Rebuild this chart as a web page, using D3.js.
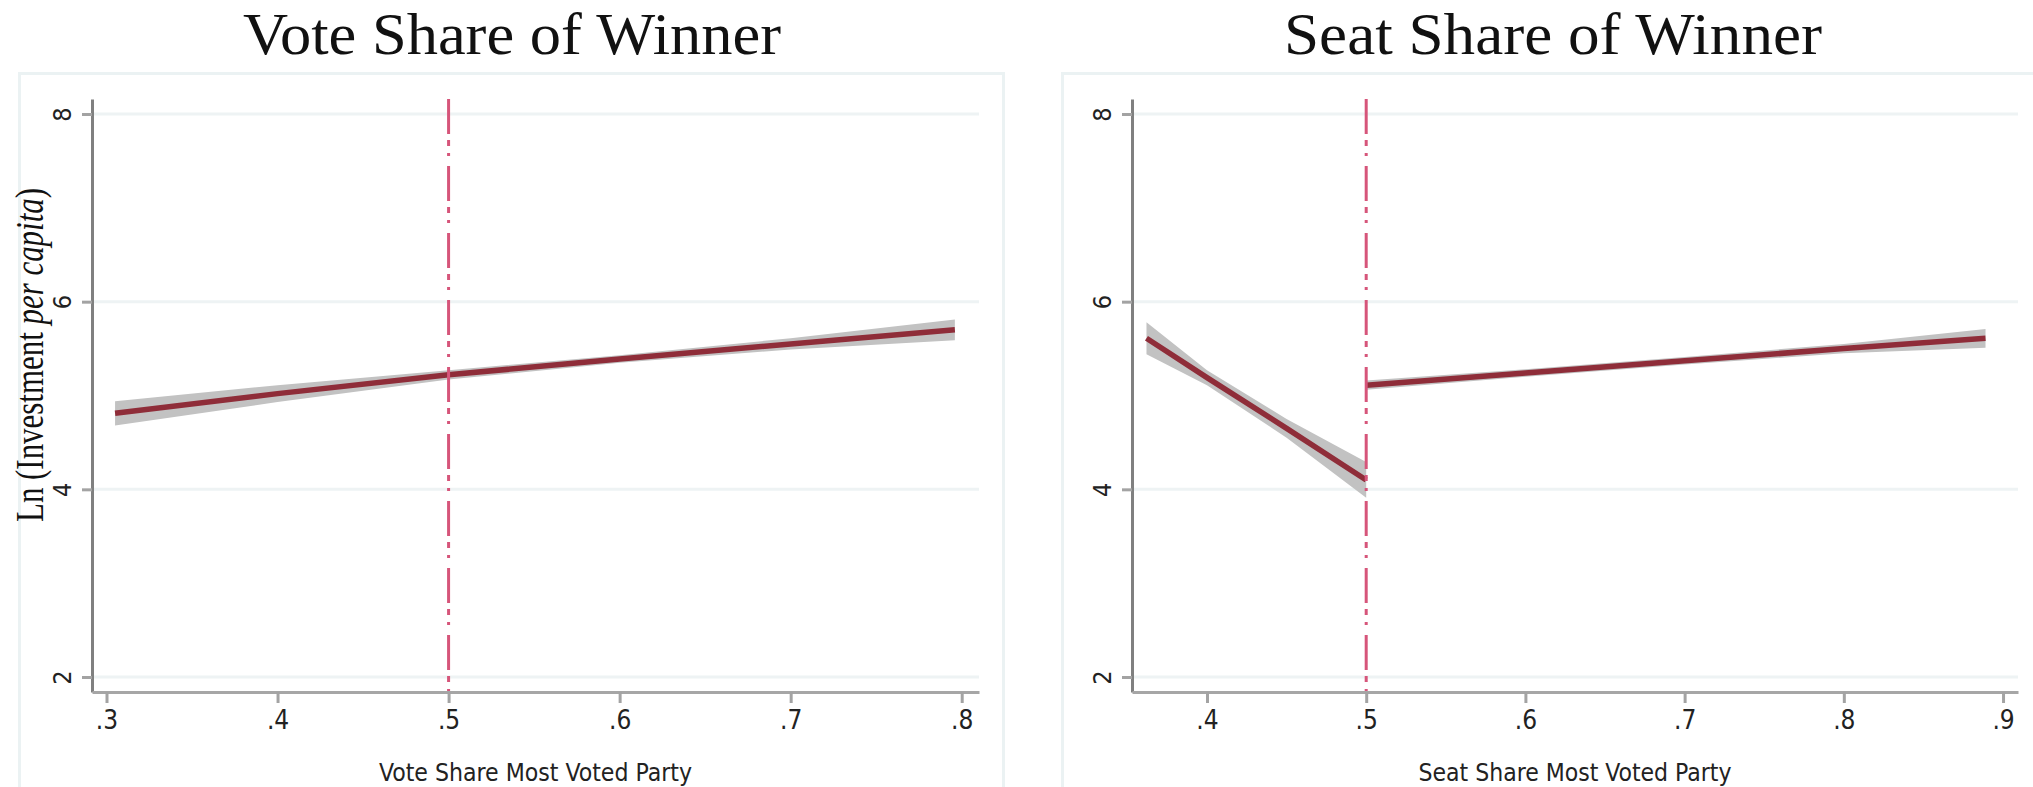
<!DOCTYPE html>
<html>
<head>
<meta charset="utf-8">
<script src="https://cdn.jsdelivr.net/npm/d3@7"></script>
<style>
  body { margin: 0; background: #fff; }
  svg { display: block; }
</style>
</head>
<body>
<div id="chart"></div>
<script>
// ticks
const yTicks = [2, 4, 6, 8];
const voteTicks = [0.3, 0.4, 0.5, 0.6, 0.7, 0.8];
const seatTicks = [0.4, 0.5, 0.6, 0.7, 0.8, 0.9];

// vote share panel: fitted line and 95% band
const voteX = [0.305, 0.4, 0.5, 0.6, 0.7, 0.796];
const voteFit = [4.81, 5.02, 5.22, 5.39, 5.55, 5.70];
const voteLo = [4.68, 4.93, 5.17, 5.35, 5.49, 5.59];
const voteHi = [4.94, 5.11, 5.27, 5.43, 5.61, 5.81];

// seat share panel: below and above the 0.5 cutoff
const seatXBelow = [0.362, 0.4, 0.45, 0.5];
const seatFitBelow = [5.61, 5.19, 4.65, 4.10];
const seatLoBelow = [5.44, 5.11, 4.55, 3.91];
const seatHiBelow = [5.78, 5.27, 4.75, 4.29];

const seatXAbove = [0.5, 0.6, 0.7, 0.8, 0.889];
const seatFitAbove = [5.11, 5.24, 5.37, 5.50, 5.61];
const seatLoAbove = [5.06, 5.20, 5.33, 5.45, 5.51];
const seatHiAbove = [5.16, 5.28, 5.41, 5.55, 5.71];

const cutoff = 0.5;

const width = 2033, height = 787;
const svg = d3.select('#chart').append('svg')
    .attr('width', width)
    .attr('height', height);

const yScale = d3.scaleLinear().domain([1.840, 8.160]).range([692, 99]);
const fmtX = d => d3.format('.1f')(d).replace(/^0/, '');
const narrow = '"Liberation Sans Narrow", "DejaVu Sans Condensed", sans-serif';
const serif = '"Liberation Serif", "DejaVu Serif", serif';

function drawPanel(p) {
    const g = svg.append('g');

    // outer graph region
    g.append('rect')
        .attr('x', p.outer[0]).attr('y', 73.5)
        .attr('width', p.outer[1] - p.outer[0]).attr('height', 800)
        .attr('fill', 'none')
        .attr('stroke', '#ebf2f3')
        .attr('stroke-width', 3);

    const x = d3.scaleLinear().domain(p.xDomain).range(p.xRange);

    // gridlines
    g.selectAll('.grid').data(yTicks).enter().append('line')
        .attr('x1', p.xRange[0]).attr('x2', p.xRange[1])
        .attr('y1', d => yScale(d)).attr('y2', d => yScale(d))
        .attr('stroke', '#eef3f4')
        .attr('stroke-width', 3);

    // confidence bands and fitted lines
    const area = d3.area()
        .x(d => x(d.x))
        .y0(d => yScale(d.lo))
        .y1(d => yScale(d.hi));
    const line = d3.line().x(d => x(d.x)).y(d => yScale(d.y));

    p.segments.forEach(s => {
        const pts = s.x.map((v, i) => ({ x: v, y: s.fit[i], lo: s.lo[i], hi: s.hi[i] }));
        g.append('path').datum(pts)
            .attr('d', area)
            .attr('fill', '#c2c2c2');
        g.append('path').datum(pts)
            .attr('d', line)
            .attr('fill', 'none')
            .attr('stroke', '#8f2d39')
            .attr('stroke-width', 5.5);
    });

    // cutoff line
    g.append('line')
        .attr('x1', x(cutoff)).attr('x2', x(cutoff))
        .attr('y1', 99).attr('y2', 692)
        .attr('stroke', '#d6557a')
        .attr('stroke-width', 3)
        .attr('stroke-dasharray', '35,6,6,7,3,10');

    // y axis
    const yAxis = g.append('g')
        .attr('transform', `translate(${p.xRange[0]},0)`)
        .call(d3.axisLeft(yScale).tickValues(yTicks).tickFormat(d3.format('d'))
            .tickSize(10).tickSizeOuter(0));
    yAxis.select('.domain').attr('stroke', '#808080').attr('stroke-width', 3);
    yAxis.selectAll('.tick line').attr('stroke', '#a3a3a3').attr('stroke-width', 3);
    yAxis.selectAll('.tick text')
        .attr('transform', 'rotate(-90)')
        .attr('x', 0).attr('y', -21).attr('dy', 0)
        .attr('text-anchor', 'middle')
        .style('font-family', narrow)
        .style('font-size', '25px')
        .attr('fill', '#222');

    // x axis
    const xAxis = g.append('g')
        .attr('transform', 'translate(0,692)')
        .call(d3.axisBottom(x).tickValues(p.ticks).tickFormat(fmtX).tickSize(11).tickSizeOuter(0));
    xAxis.select('.domain').attr('stroke', '#a6a6a6').attr('stroke-width', 3);
    xAxis.selectAll('.tick line').attr('stroke', '#a3a3a3').attr('stroke-width', 3);
    xAxis.selectAll('.tick text')
        .attr('y', 37).attr('dy', 0)
        .style('font-family', narrow)
        .style('font-size', '26px')
        .attr('fill', '#222');

    // titles
    g.append('text')
        .attr('x', p.titleX).attr('y', 54)
        .attr('text-anchor', 'middle')
        .attr('textLength', 538)
        .attr('lengthAdjust', 'spacingAndGlyphs')
        .style('font-family', serif)
        .style('font-size', '60px')
        .attr('fill', '#111')
        .text(p.title);

    g.append('text')
        .attr('x', (p.xRange[0] + p.xRange[1]) / 2).attr('y', 781)
        .attr('text-anchor', 'middle')
        .attr('textLength', 313)
        .attr('lengthAdjust', 'spacingAndGlyphs')
        .style('font-family', narrow)
        .style('font-size', '24px')
        .attr('fill', '#222')
        .text(p.xTitle);
}

drawPanel({
    outer: [19.5, 1003.5],
    xDomain: [0.29152, 0.81011],
    xRange: [92, 979],
    ticks: voteTicks,
    title: 'Vote Share of Winner',
    titleX: 512,
    xTitle: 'Vote Share Most Voted Party',
    segments: [{ x: voteX, fit: voteFit, lo: voteLo, hi: voteHi }]
});

drawPanel({
    outer: [1062.5, 2045],
    xDomain: [0.3529, 0.9094],
    xRange: [1132, 2018],
    ticks: seatTicks,
    title: 'Seat Share of Winner',
    titleX: 1553,
    xTitle: 'Seat Share Most Voted Party',
    segments: [
        { x: seatXBelow, fit: seatFitBelow, lo: seatLoBelow, hi: seatHiBelow },
        { x: seatXAbove, fit: seatFitAbove, lo: seatLoAbove, hi: seatHiAbove }
    ]
});

// shared y axis title
const yTitle = svg.append('text')
    .attr('transform', 'translate(43,355) rotate(-90)')
    .attr('text-anchor', 'middle')
    .attr('textLength', 334)
    .attr('lengthAdjust', 'spacingAndGlyphs')
    .style('font-family', serif)
    .style('font-size', '40px')
    .attr('fill', '#111');
yTitle.append('tspan').text('Ln (Investment ');
yTitle.append('tspan').style('font-style', 'italic').text('per capita');
yTitle.append('tspan').text(')');
</script>
</body>
</html>
